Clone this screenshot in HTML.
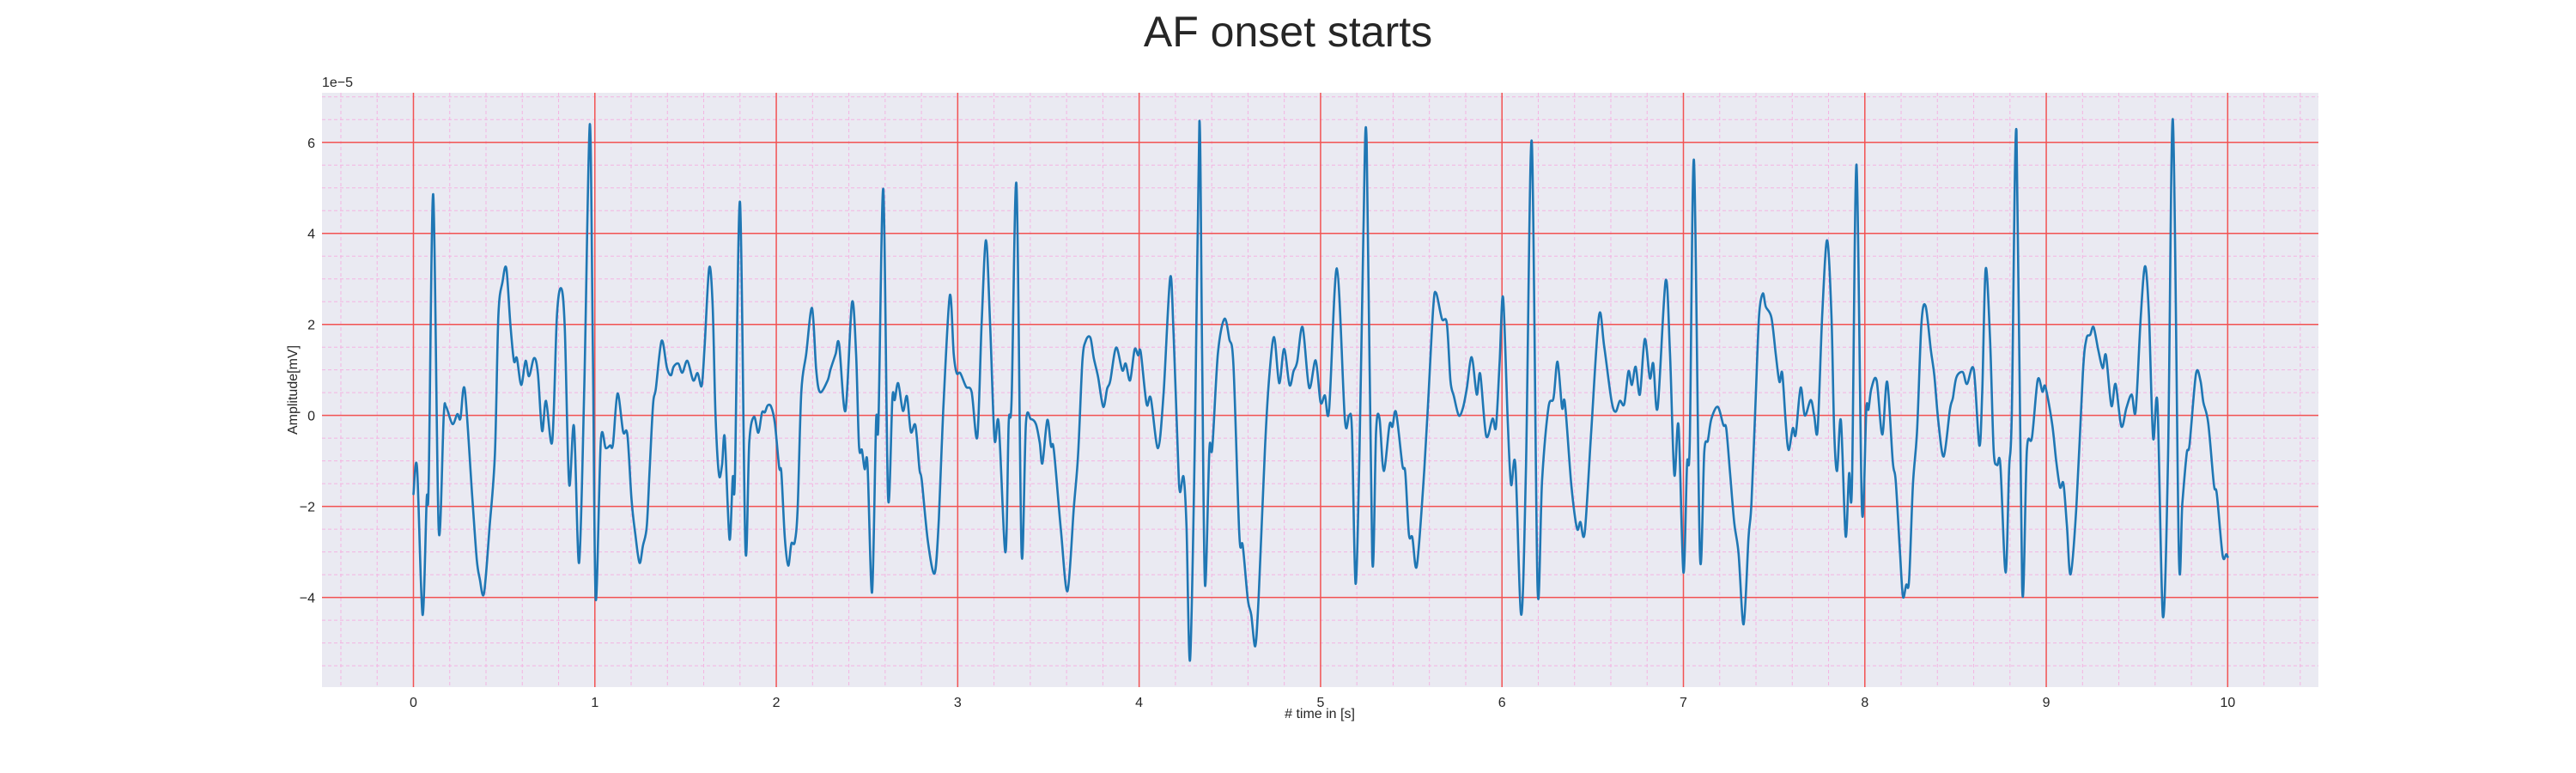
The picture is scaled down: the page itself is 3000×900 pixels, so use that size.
<!DOCTYPE html>
<html><head><meta charset="utf-8"><title>AF onset starts</title>
<style>
html,body{margin:0;padding:0;background:#fff;}
svg{display:block;font-family:"Liberation Sans",Arial,sans-serif;}
</style></head>
<body>
<svg id="chart" width="3000" height="900" viewBox="0 0 3000 900" xmlns="http://www.w3.org/2000/svg">
<rect x="0" y="0" width="3000" height="900" fill="#ffffff"/>
<text x="1500" y="54" font-size="50" text-anchor="middle" fill="#262626">AF onset starts</text>
<rect x="375" y="108" width="2325" height="692" fill="#eaeaf2"/>
<g id="minor-grid"></g>
<g id="major-grid"></g>
<g id="x-ticks"></g>
<g id="y-ticks"></g>
<g id="series"></g>
<text x="375" y="101" font-size="16" fill="#262626">1e−5</text>
<text x="0" y="0" font-size="16" fill="#262626" text-anchor="middle" transform="translate(346,454) rotate(-90)">Amplitude[mV]</text>
<text x="1537" y="836" font-size="16" fill="#262626" text-anchor="middle"># time in [s]</text>
</svg>
<script>
const xTickLabels = ["0","1","2","3","4","5","6","7","8","9","10"];
const yTickLabels = ["-4","-2","0","2","4","6"];
const times = [0,0.02,0.05,0.073,0.084,0.109,0.139,0.167,0.18,0.215,0.242,0.259,0.283,0.325,0.349,0.365,0.389,0.42,0.449,0.468,0.491,0.512,0.534,0.554,0.57,0.594,0.618,0.637,0.665,0.686,0.709,0.731,0.765,0.791,0.815,0.834,0.858,0.885,0.913,0.942,0.972,0.989,1.005,1.033,1.06,1.084,1.1,1.125,1.156,1.179,1.202,1.223,1.246,1.265,1.286,1.302,1.321,1.336,1.368,1.397,1.419,1.434,1.46,1.482,1.51,1.542,1.566,1.589,1.605,1.63,1.649,1.665,1.684,1.701,1.716,1.742,1.76,1.772,1.8,1.83,1.851,1.877,1.901,1.921,1.937,1.953,1.972,1.992,2.016,2.028,2.047,2.066,2.083,2.102,2.118,2.138,2.165,2.197,2.22,2.241,2.283,2.299,2.327,2.346,2.381,2.417,2.44,2.456,2.472,2.487,2.503,2.528,2.55,2.563,2.59,2.616,2.64,2.653,2.672,2.698,2.72,2.742,2.767,2.789,2.802,2.836,2.873,2.896,2.92,2.956,2.978,2.994,3.014,3.046,3.077,3.108,3.132,3.156,3.179,3.203,3.226,3.263,3.281,3.297,3.324,3.352,3.376,3.403,3.431,3.452,3.467,3.494,3.514,3.53,3.569,3.605,3.64,3.664,3.687,3.706,3.731,3.75,3.774,3.802,3.824,3.841,3.873,3.907,3.926,3.95,3.975,3.994,4.009,4.041,4.064,4.104,4.135,4.171,4.19,4.214,4.225,4.245,4.261,4.281,4.308,4.332,4.347,4.363,4.387,4.403,4.434,4.47,4.497,4.52,4.552,4.571,4.599,4.618,4.64,4.659,4.693,4.717,4.744,4.772,4.799,4.829,4.851,4.871,4.901,4.937,4.973,5.0,5.024,5.047,5.09,5.134,5.157,5.173,5.193,5.215,5.236,5.254,5.285,5.306,5.325,5.348,5.38,5.396,5.416,5.451,5.467,5.487,5.506,5.53,5.565,5.59,5.621,5.637,5.669,5.696,5.716,5.735,5.762,5.785,5.806,5.833,5.861,5.88,5.913,5.948,5.967,5.987,6.006,6.032,6.05,6.074,6.106,6.132,6.164,6.196,6.221,6.256,6.284,6.306,6.331,6.347,6.382,6.413,6.432,6.456,6.492,6.535,6.563,6.603,6.626,6.65,6.674,6.697,6.716,6.737,6.76,6.787,6.815,6.834,6.858,6.902,6.926,6.95,6.973,7.0,7.02,7.035,7.058,7.091,7.115,7.135,7.154,7.189,7.22,7.236,7.257,7.28,7.304,7.332,7.359,7.375,7.398,7.417,7.438,7.454,7.485,7.509,7.529,7.545,7.564,7.58,7.603,7.619,7.646,7.669,7.702,7.721,7.74,7.765,7.792,7.816,7.831,7.847,7.868,7.894,7.913,7.929,7.954,7.984,8.008,8.02,8.036,8.065,8.096,8.123,8.154,8.17,8.194,8.21,8.228,8.244,8.265,8.288,8.312,8.335,8.364,8.383,8.406,8.435,8.469,8.485,8.505,8.54,8.563,8.6,8.631,8.647,8.666,8.69,8.71,8.729,8.747,8.776,8.795,8.81,8.836,8.867,8.893,8.921,8.953,8.979,8.995,9.032,9.055,9.076,9.095,9.114,9.134,9.166,9.202,9.221,9.242,9.261,9.287,9.311,9.329,9.359,9.382,9.414,9.442,9.471,9.493,9.521,9.545,9.566,9.589,9.613,9.643,9.671,9.698,9.731,9.75,9.774,9.79,9.825,9.85,9.866,9.893,9.924,9.94,9.972,9.992,10.0];
const amplitudes = [-1.73,-1.15,-4.38,-1.85,-1.5,4.86,-2.5,0,0.19,-0.19,0.03,-0.07,0.56,-1.85,-3.16,-3.58,-3.91,-2.44,-0.84,2.19,2.93,3.23,2.02,1.2,1.26,0.67,1.2,0.86,1.26,0.93,-0.34,0.32,-0.57,2.19,2.79,1.94,-1.5,-0.24,-3.24,0.67,6.4,1.35,-4.04,-0.57,-0.72,-0.66,-0.63,0.48,-0.36,-0.42,-1.85,-2.61,-3.24,-2.86,-2.44,-1.18,0.25,0.59,1.64,1.05,0.88,1.07,1.14,0.94,1.2,0.77,0.93,0.65,1.52,3.24,2.44,0,-1.3,-1.09,-0.49,-2.72,-1.36,-1.35,4.69,-2.92,-0.59,-0.03,-0.38,0.06,0.07,0.22,0.19,-0.17,-1.14,-1.26,-2.69,-3.3,-2.82,-2.78,-2.02,0.51,1.35,2.36,1.01,0.51,0.77,1.01,1.35,1.57,0.1,2.48,1.35,-0.67,-0.76,-1.18,-1.08,-3.89,-0.13,-0.17,4.97,-1.78,0.38,0.34,0.71,0.1,0.42,-0.36,-0.22,-1.18,-1.43,-2.78,-3.47,-2.27,0.08,2.63,1.35,0.93,0.93,0.63,0.51,-0.47,2.02,3.85,1.94,-0.52,-0.17,-3.01,-0.17,0.34,5.07,-3.01,-0.17,-0.08,-0.19,-0.6,-1.05,-0.1,-0.67,-0.76,-2.53,-3.86,-2.02,-0.84,1.18,1.64,1.71,1.26,0.84,0.19,0.59,0.76,1.49,0.99,1.14,0.77,1.45,1.32,1.39,0.25,0.38,-0.72,0.51,3.03,1.77,-0.93,-1.68,-1.35,-2.44,-5.36,-0.34,6.46,1.35,-3.72,-0.76,-0.72,1.35,2.12,1.68,1.09,-2.61,-2.86,-4.04,-4.38,-5.07,-3.96,-0.76,0.84,1.72,0.71,1.46,0.67,0.97,1.18,1.94,0.61,1.21,0.29,0.44,0.13,3.23,-0.08,0,-0.34,-3.7,-0.76,4.0,6.0,-3.13,-0.34,-0.07,-1.22,-0.21,-0.25,0.07,-1.09,-1.26,-2.61,-2.68,-3.32,-1.6,0.08,2.36,2.69,2.12,2.02,0.76,0.42,0,0.17,0.59,1.28,0.46,0.91,-0.45,-0.07,-0.25,1.18,2.59,-0.17,-1.52,-1.09,-4.38,-1.18,6.02,-3.75,-1.43,0.17,0.38,1.18,0.17,0.27,-1.52,-2.48,-2.34,-2.57,-0.34,2.19,1.52,0.34,0.08,0.32,0.25,0.97,0.67,1.07,0.46,1.68,0.82,1.14,0.17,2.96,1.35,-1.3,-0.22,-3.45,-1.09,-0.59,5.6,-3.05,-0.8,-0.55,-0.08,0.19,-0.21,-0.29,-1.26,-2.36,-3.03,-4.59,-2.69,-1.94,0.34,2.19,2.68,2.39,2.15,1.35,0.74,0.93,-0.17,-0.76,-0.28,-0.42,0.61,0,0.34,0,-0.31,2.19,3.85,2.19,-0.34,-1.22,-0.11,-2.65,-1.28,-1.52,5.51,-2.06,0.13,0.13,0.59,0.77,-0.42,0.74,-1.01,-1.43,-3.03,-3.98,-3.72,-3.62,-1.52,-0.34,2.02,2.4,1.43,0.88,-0.17,-0.9,0.13,0.38,0.84,0.95,0.69,1.01,-0.66,0.51,3.22,1.68,-0.76,-1.09,-1.09,-3.45,-1.18,0,6.25,-3.77,-0.76,-0.49,0.78,0.52,0.63,-0.17,-1.01,-1.58,-1.5,-2.44,-3.49,-2.02,0.93,1.68,1.77,1.94,1.43,1.04,1.32,0.21,0.69,-0.24,0.17,0.46,0.1,2.19,3.28,2.19,-0.49,0.25,-4.42,-1.01,6.5,-3.05,-1.94,-0.84,-0.63,0.91,0.76,0.29,-0.17,-1.52,-1.73,-3.07,-3.05,-3.11];

const NS = "http://www.w3.org/2000/svg";
const PL = 375, PR = 2700, PT = 108, PB = 800;
const XMIN = -0.504, XMAX = 10.5, YMIN = -5.97, YMAX = 7.09;
function xs(t){ return PL + (t - XMIN) / (XMAX - XMIN) * (PR - PL); }
function ys(v){ return PB - (v - YMIN) / (YMAX - YMIN) * (PB - PT); }
function mk(tag, attrs, parent){
  const e = document.createElementNS(NS, tag);
  for (const k in attrs) e.setAttribute(k, attrs[k]);
  parent.appendChild(e);
  return e;
}
const minorG = document.getElementById('minor-grid');
const majorG = document.getElementById('major-grid');
for (let i = -2; i <= 52; i++) {
  const t = i * 0.2;
  if (i % 5 === 0) continue;
  const x = xs(t);
  if (x < PL || x > PR) continue;
  const l = mk('line', {x1:x, x2:x, y1:PT, y2:PB, stroke:'#f4b4e2', 'stroke-width':1, 'stroke-dasharray':'4,3'}, minorG);
  
  
}
for (let i = -12; i <= 14; i++) {
  if (i % 4 === 0) continue;
  const v = i * 0.5;
  const y = ys(v);
  if (y < PT || y > PB) continue;
  const l = mk('line', {x1:PL, x2:PR, y1:y, y2:y, stroke:'#f4b4e2', 'stroke-width':1, 'stroke-dasharray':'4,3'}, minorG);
  
  
}
const xt = document.getElementById('x-ticks');
xTickLabels.forEach(function(lab){
  const x = xs(parseFloat(lab));
  const l = mk('line', {x1:x, x2:x, y1:PT, y2:PB, stroke:'#f25252', 'stroke-width':1.5}, majorG);
  
  
  const tx = mk('text', {x:x, y:823, 'font-size':16, 'text-anchor':'middle', fill:'#262626'}, xt);
  tx.textContent = lab;
  
  
});
const yt = document.getElementById('y-ticks');
yTickLabels.forEach(function(lab){
  const y = ys(parseFloat(lab));
  const l = mk('line', {x1:PL, x2:PR, y1:y, y2:y, stroke:'#f25252', 'stroke-width':1.5}, majorG);
  
  
  const tx = mk('text', {x:367, y:y + 6, 'font-size':16, 'text-anchor':'end', fill:'#262626'}, yt);
  tx.textContent = lab.replace('-', '−');
  
  
});
// smooth path (Catmull-Rom -> cubic Bezier)
const pts = times.map(function(t, i){ return [xs(t), ys(amplitudes[i])]; });
let d = 'M' + pts[0][0].toFixed(1) + ',' + pts[0][1].toFixed(1);
const k = 0.16;
for (let i = 0; i < pts.length - 1; i++) {
  const p0 = pts[Math.max(0, i - 1)], p1 = pts[i], p2 = pts[i + 1], p3 = pts[Math.min(pts.length - 1, i + 2)];
  const c1x = p1[0] + (p2[0] - p0[0]) * k, c1y = p1[1] + (p2[1] - p0[1]) * k;
  const c2x = p2[0] - (p3[0] - p1[0]) * k, c2y = p2[1] - (p3[1] - p1[1]) * k;
  d += 'C' + c1x.toFixed(1) + ',' + c1y.toFixed(1) + ' ' + c2x.toFixed(1) + ',' + c2y.toFixed(1) + ' ' + p2[0].toFixed(1) + ',' + p2[1].toFixed(1);
}
const path = mk('path', {d:d, fill:'none', stroke:'#1f77b4', 'stroke-width':2.6, 'stroke-linejoin':'round', 'stroke-linecap':'round'}, document.getElementById('series'));


</script>
</body></html>
